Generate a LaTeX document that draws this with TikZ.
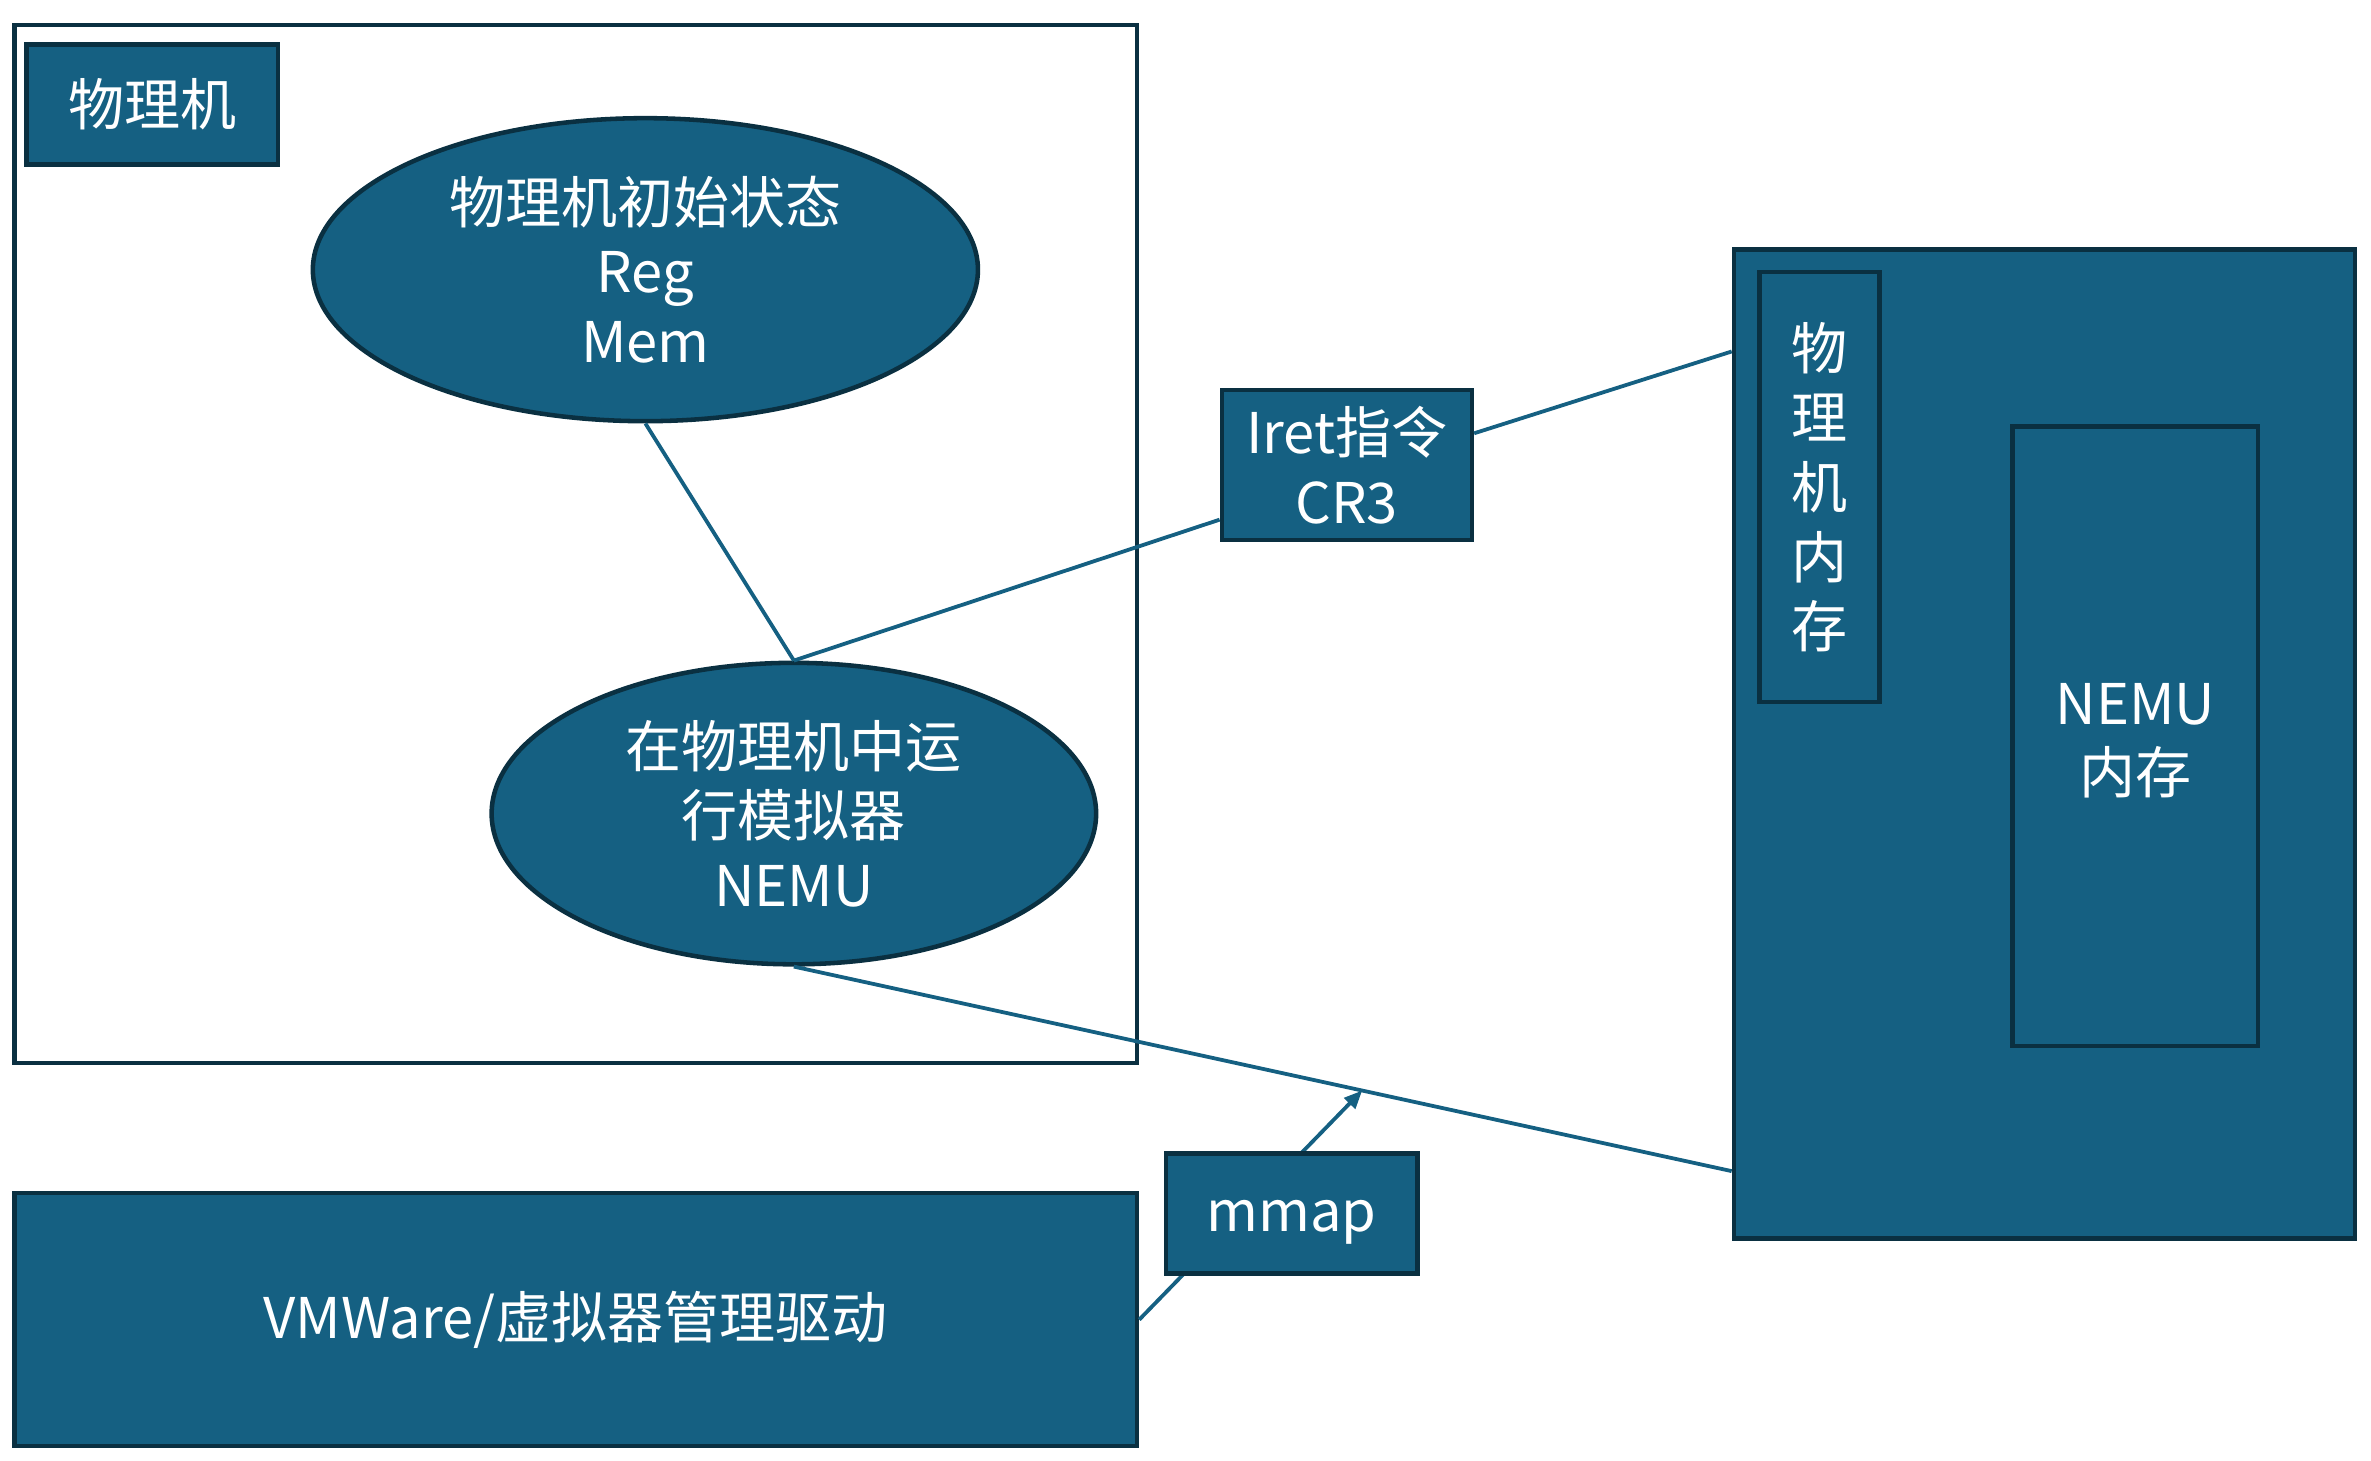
\documentclass[tikz,border=0pt]{standalone}
\usepackage{fontspec}
\setmainfont{Noto Sans CJK SC}
\usetikzlibrary{shapes.geometric,arrows.meta,calc}
\definecolor{acc}{HTML}{156082}
\definecolor{edge}{HTML}{0A3041}
\begin{document}
\begin{tikzpicture}[x=1pt,y=-1pt,
  txt/.style={text=white,font=\fontsize{37pt}{46pt}\selectfont,align=center,inner sep=0pt},
  blk/.style={txt,draw=edge,fill=acc,line width=3pt,rectangle},
  ell/.style={txt,draw=edge,fill=acc,line width=3pt,ellipse},
  conn/.style={draw=acc,line width=2.5pt}]
\useasboundingbox (0,0) rectangle (1565,964.3);
% containers and blocks
\node[draw=edge,line width=3pt,minimum width=741pt,minimum height=685pt,inner sep=0pt] (pm) at (380,359) {};
\node[blk,minimum width=166pt,minimum height=79pt] (pmlabel) at (100.5,69) {物理机};
\node[ell,minimum width=439pt,minimum height=200pt] (e1) at (426,178) {物理机初始状态\\Reg\\Mem};
\node[ell,minimum width=399pt,minimum height=199pt] (e2) at (524,537) {在物理机中运\\行模拟器\\NEMU};
\node[blk,minimum width=165pt,minimum height=99pt] (iret) at (889,307) {Iret指令\\CR3};
\node[blk,minimum width=410pt,minimum height=653pt] (R) at (1349.5,491) {};
\node[blk,minimum width=79pt,minimum height=284pt] (pmem) at (1201,321.5) {物\\理\\机\\内\\存};
\node[blk,minimum width=162pt,minimum height=409pt] (nmem) at (1409.5,486) {};
\node[txt] (nmemtext) at (1409.5,489) {NEMU\\内存};
\node[blk,minimum width=741pt,minimum height=167pt] (vm) at (380,871) {VMWare/虚拟器管理驱动};
% connectors
\draw[conn] (e1.south) -- (e2.north);
\draw[conn] (e2.north) -- ([yshift=-36pt]iret.west);
\draw[conn] ([yshift=21pt]iret.east) -- ([yshift=259pt]R.west);
\draw[conn] (e2.south) -- coordinate[pos=0.606] (m) ([yshift=-282pt]R.west);
\draw[conn,-{Triangle[length=12pt,width=10pt]}] (vm.east) -- (m);
\node[blk,minimum width=166pt,minimum height=79pt,text height=32pt,text depth=8pt] (mmap) at (852.5,801) {mmap};
\end{tikzpicture}
\end{document}
